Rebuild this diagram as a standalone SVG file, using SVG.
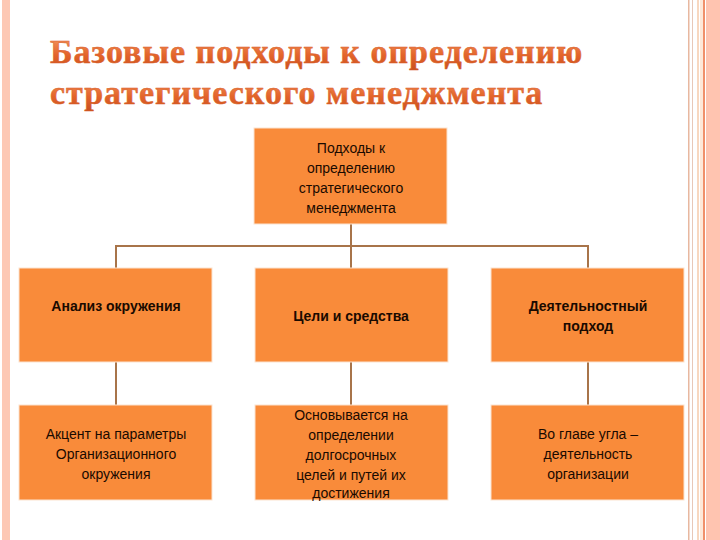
<svg xmlns="http://www.w3.org/2000/svg" width="720" height="540" viewBox="0 0 720 540">
<defs>
<linearGradient id="tg" x1="0" y1="0" x2="0" y2="1"><stop offset="0" stop-color="#f6a06a"/><stop offset="0.6" stop-color="#e4642a"/><stop offset="1" stop-color="#c8501e"/></linearGradient>
</defs>
<style>
.box{fill:#f98b3a;stroke:#fbe3d0;stroke-width:1}
.t{font-family:"Liberation Sans",Arial,sans-serif;font-size:14px;fill:#1a0a00;text-anchor:middle}
.b{font-weight:bold}
.c{stroke:#a8744a;stroke-width:2;fill:none}
.title{font-family:"Liberation Serif","Times New Roman",serif;font-weight:bold;font-size:34px;fill:url(#tg);stroke:#d8602a;stroke-width:0.5;letter-spacing:1px}
</style>
<rect width="720" height="540" fill="#fff"/>
<rect x="2" y="0" width="8" height="540" fill="#fdc8b4"/>
<rect x="688" y="0" width="1.5" height="540" fill="#e8b8a0"/>
<rect x="692" y="0" width="1" height="540" fill="#e8c8b8"/>
<rect x="697" y="0" width="2" height="540" fill="#f8d8c0"/>
<rect x="700" y="0" width="3" height="540" fill="#fde8d8"/>
<rect x="703" y="0" width="2" height="540" fill="#f0906a"/>
<rect x="706" y="0" width="14" height="540" fill="#ffc4b0"/>
<text class="title" x="50" y="63">Базовые подходы к определению</text>
<text class="title" x="50" y="104">стратегического менеджмента</text>
<g id="connectors">
<path class="c" d="M351 224V246M116 268V246H588V268M351 246V268M116 362V405M351 362V405M588 362V405"/>
</g>
<g id="root"><rect class="box" x="254" y="128" width="193" height="96"/>
<text class="t" x="351" y="153">Подходы к</text><text class="t" x="351" y="173">определению</text><text class="t" x="351" y="193">стратегического</text><text class="t" x="351" y="213">менеджмента</text></g>
<g id="n1"><rect class="box" x="19" y="268" width="193" height="94"/><text class="t b" x="116" y="311">Анализ окружения</text></g>
<g id="n2"><rect class="box" x="255" y="268" width="193" height="94"/><text class="t b" x="351" y="321">Цели и средства</text></g>
<g id="n3"><rect class="box" x="491" y="268" width="193" height="94"/><text class="t b" x="588" y="311">Деятельностный</text><text class="t b" x="588" y="331">подход</text></g>
<g id="n4"><rect class="box" x="19" y="405" width="193" height="95"/><text class="t" x="116" y="439">Акцент на параметры</text><text class="t" x="116" y="459">Организационного</text><text class="t" x="116" y="479">окружения</text></g>
<g id="n5"><rect class="box" x="255" y="405" width="193" height="95"/><text class="t" x="351" y="420">Основывается на</text><text class="t" x="351" y="440">определении</text><text class="t" x="351" y="460">долгосрочных</text><text class="t" x="351" y="480">целей и путей их</text><text class="t" x="351" y="498">достижения</text></g>
<g id="n6"><rect class="box" x="491" y="405" width="193" height="95"/><text class="t" x="588" y="439">Во главе угла –</text><text class="t" x="588" y="459">деятельность</text><text class="t" x="588" y="479">организации</text></g>
</svg>
